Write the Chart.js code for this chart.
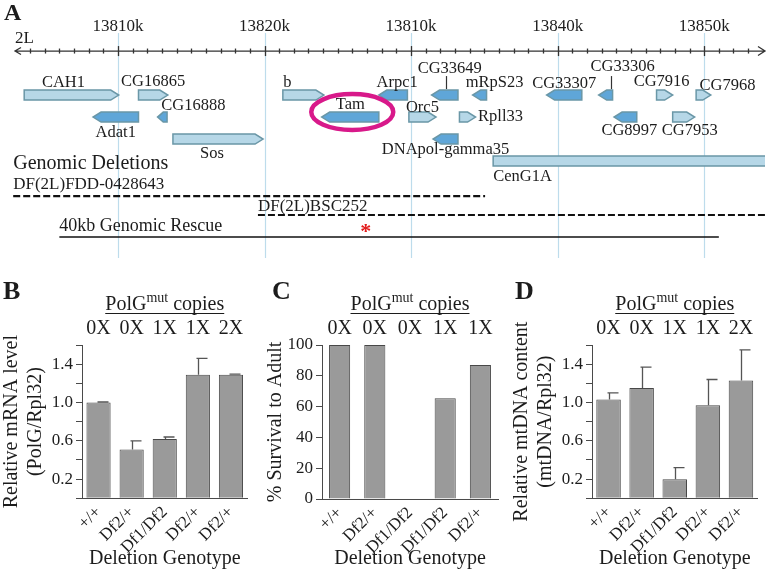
<!DOCTYPE html>
<html>
<head>
<meta charset="utf-8">
<script src="https://cdn.jsdelivr.net/npm/chart.js@4.4.0/dist/chart.umd.min.js"></script>
<style>
  html, body { margin: 0; padding: 0; background: #fff; }
  body { width: 770px; height: 571px; position: relative; overflow: hidden; }
  .panel { position: absolute; }
</style>
</head>
<body>
<div class="panel" style="left:0;top:0;width:770px;height:270px"><canvas id="map"></canvas></div>
<div class="panel" style="left:0;top:280px;width:255px;height:291px"><canvas id="mrna"></canvas></div>
<div class="panel" style="left:255px;top:280px;width:255px;height:291px"><canvas id="survival"></canvas></div>
<div class="panel" style="left:510px;top:280px;width:260px;height:291px"><canvas id="mtdna"></canvas></div>
<script>
// ---- panel A: genomic region (kb on chromosome 2L) ----
const rulerMinKb = 13802.7;
const rulerMaxKb = 13854.15;
const majorTickKb = [13810, 13820, 13830, 13840, 13850];
const majorTickLabels = ['13810k', '13820k', '13810k', '13840k', '13850k'];

const geneNames = ['CAH1', 'CG16865', 'CG16888', 'Adat1', 'Sos', 'b', 'Tam', 'Arpc1', 'CG33649', 'mRpS23',
  'Orc5', 'Rpll33', 'DNApol-gamma35', 'CenG1A', 'CG33307', 'CG33306', 'CG7916', 'CG7968', 'CG8997', 'CG7953'];
const geneStarts = [13803.6, 13811.4, 13812.7, 13808.3, 13813.75, 13821.25, 13823.9, 13827.8, 13831.4, 13834.2,
  13829.85, 13833.3, 13831.5, 13835.6, 13839.25, 13842.8, 13846.75, 13849.45, 13843.85, 13847.85];
const geneEnds = [13810.05, 13813.4, 13813.35, 13811.4, 13819.9, 13824.05, 13827.8, 13829.75, 13833.2, 13835.15,
  13831.7, 13834.4, 13833.2, 13856.0, 13841.65, 13843.75, 13847.85, 13850.45, 13845.4, 13849.35];
const geneStrands = ['+', '+', '-', '-', '+', '+', '-', '-', '-', '-', '+', '+', '-', '+', '-', '-', '+', '+', '-', '+'];
const geneLanes = [0, 0, 1, 1, 2, 0, 1, 0, 0, 0, 1, 1, 2, 3, 0, 0, 0, 0, 1, 1];

const deletionNames = ['DF(2L)FDD-0428643', 'DF(2L)BSC252', '40kb Genomic Rescue'];
const deletionStarts = [13802.85, 13819.55, 13806.0];
const deletionEnds = [13835.05, 13854.15, 13851.0];
const deletionLanes = [4.59, 5.45, 6.45];
const deletionDashed = [true, true, false];
const rescueMarkKb = 13826.9;
const highlightedGene = 'Tam';

// ---- panels B-D ----
const mrnaGenotypes = ['+/+', 'Df2/+', 'Df1/Df2', 'Df2/+', 'Df2/+'];
const mrnaCopies = ['0X', '0X', '1X', '1X', '2X'];
const mrnaLevel = [1.0, 0.51, 0.62, 1.29, 1.29];
const mrnaError = [0.005, 0.09, 0.02, 0.17, 0.006];

const survivalGenotypes = ['+/+', 'Df2/+', 'Df1/Df2', 'Df1/Df2', 'Df2/+'];
const survivalCopies = ['0X', '0X', '0X', '1X', '1X'];
const survivalPct = [100, 100, 0, 65.5, 87];

const mtdnaGenotypes = ['+/+', 'Df2/+', 'Df1/Df2', 'Df2/+', 'Df2/+'];
const mtdnaCopies = ['0X', '0X', '1X', '1X', '2X'];
const mtdnaContent = [1.03, 1.15, 0.20, 0.97, 1.23];
const mtdnaError = [0.07, 0.22, 0.12, 0.27, 0.32];

const relativeTickLabels = [0.2, 0.6, 1.0, 1.4];

const SERIF = "'Liberation Serif', 'Times New Roman', serif";
const INK = '#1c1c1c';
const AXIS = '#4a4a4a';
const BAR_FILL = 'rgb(154,154,154)';
const BAR_EDGE = 'rgb(72,72,72)';

// label placement for genes (px, relative to gene centre)
const geneLabelOffsets = {
  'CAH1': [-8, -12], 'CG16865': [0, -13], 'CG16888': [31, -11], 'Adat1': [0, 16], 'Sos': [-6, 15],
  'b': [-16, -12], 'Tam': [0, -12], 'Arpc1': [4, -12], 'CG33649': [5, -26], 'mRpS23': [15, -12],
  'Orc5': [0, -9], 'Rpll33': [33, 0], 'DNApol-gamma35': [0, 11], 'CG33307': [0, -11], 'CG33306': [17, -28],
  'CG7916': [-3, -13], 'CG7968': [24, -9], 'CG8997': [4, 14], 'CG7953': [6, 14]
};
const geneStems = { 'CG33649': 1, 'CG33306': 5 };

function genePath(ctx, x0, x1, yc, h, strand) {
  const head = Math.min(8, (x1 - x0) * 0.6);
  ctx.beginPath();
  if (strand === '+') {
    ctx.moveTo(x0, yc - h / 2);
    ctx.lineTo(x1 - head, yc - h / 2);
    ctx.lineTo(x1, yc);
    ctx.lineTo(x1 - head, yc + h / 2);
    ctx.lineTo(x0, yc + h / 2);
  } else {
    ctx.moveTo(x1, yc - h / 2);
    ctx.lineTo(x0 + head, yc - h / 2);
    ctx.lineTo(x0, yc);
    ctx.lineTo(x0 + head, yc + h / 2);
    ctx.lineTo(x1, yc + h / 2);
  }
  ctx.closePath();
}

const mapPlugin = {
  id: 'genomeMap',
  beforeDatasetsDraw(chart) {
    const { ctx, chartArea, scales: { x, y } } = chart;
    const rulerY = y.getPixelForValue(-2);
    ctx.save();
    // guide lines at major ticks
    ctx.strokeStyle = '#bddcec';
    ctx.lineWidth = 1.2;
    majorTickKb.forEach((kb) => {
      const px = Math.round(x.getPixelForValue(kb)) + 0.5;
      ctx.beginPath();
      ctx.moveTo(px, rulerY - 18);
      ctx.lineTo(px, chartArea.bottom - 12);
      ctx.stroke();
    });
    // ruler
    const left = chartArea.left + 4;
    const right = chartArea.right;
    ctx.strokeStyle = '#333';
    ctx.lineWidth = 1.3;
    ctx.beginPath();
    ctx.moveTo(left, rulerY);
    ctx.lineTo(right, rulerY);
    ctx.moveTo(left + 6, rulerY - 3.5);
    ctx.lineTo(left, rulerY);
    ctx.lineTo(left + 6, rulerY + 3.5);
    ctx.moveTo(right - 7, rulerY - 4.5);
    ctx.lineTo(right, rulerY);
    ctx.lineTo(right - 7, rulerY + 4.5);
    ctx.stroke();
    for (let kb = Math.ceil(rulerMinKb); kb <= rulerMaxKb; kb++) {
      const px = Math.round(x.getPixelForValue(kb)) + 0.5;
      if (px < left + 8 || px > right - 6) continue;
      const len = majorTickKb.includes(kb) ? 5 : 2.5;
      ctx.beginPath();
      ctx.moveTo(px, rulerY - len);
      ctx.lineTo(px, rulerY + len);
      ctx.stroke();
    }
    ctx.fillStyle = INK;
    ctx.font = `17px ${SERIF}`;
    ctx.textAlign = 'center';
    ctx.textBaseline = 'middle';
    majorTickKb.forEach((kb, i) => ctx.fillText(majorTickLabels[i], x.getPixelForValue(kb), rulerY - 25));
    ctx.textAlign = 'left';
    ctx.fillText('2L', chartArea.left + 4, rulerY - 13);
    ctx.font = `bold 24px ${SERIF}`;
    ctx.fillText('A', 4, 14);
    ctx.restore();
  },
  afterDatasetsDraw(chart) {
    const { ctx, chartArea, scales: { x, y } } = chart;
    ctx.save();
    ctx.beginPath();
    ctx.rect(chartArea.left - 11, chartArea.top, chartArea.right - chartArea.left + 11, chartArea.bottom - chartArea.top);
    ctx.clip();

    // genes
    geneNames.forEach((name, i) => {
      const x0 = x.getPixelForValue(geneStarts[i]);
      const x1 = x.getPixelForValue(geneEnds[i]);
      const yc = y.getPixelForValue(geneLanes[i]);
      genePath(ctx, x0, x1, yc, 10, geneStrands[i]);
      ctx.fillStyle = geneStrands[i] === '+' ? '#b6d7e7' : '#5fa6d8';
      ctx.fill();
      ctx.strokeStyle = '#6a97a7';
      ctx.lineWidth = 1.5;
      ctx.stroke();
    });

    // gene labels
    ctx.fillStyle = INK;
    ctx.font = `16.5px ${SERIF}`;
    ctx.textBaseline = 'middle';
    geneNames.forEach((name, i) => {
      const x0 = x.getPixelForValue(geneStarts[i]);
      const x1 = x.getPixelForValue(geneEnds[i]);
      const yc = y.getPixelForValue(geneLanes[i]);
      if (name === 'CenG1A') {
        ctx.textAlign = 'left';
        ctx.fillText(name, x0, yc + 16);
        return;
      }
      const [dx, dy] = geneLabelOffsets[name];
      ctx.textAlign = 'center';
      ctx.fillText(name, (x0 + x1) / 2 + dx, yc + dy);
      if (geneStems[name] !== undefined) {
        const sx = Math.round((x0 + x1) / 2 + geneStems[name]) + 0.5;
        ctx.strokeStyle = '#333';
        ctx.lineWidth = 1.2;
        ctx.beginPath();
        ctx.moveTo(sx, yc - 19);
        ctx.lineTo(sx, yc - 6);
        ctx.stroke();
      }
    });

    // highlight ring
    const hi = geneNames.indexOf(highlightedGene);
    const hx = (x.getPixelForValue(geneStarts[hi]) + x.getPixelForValue(geneEnds[hi])) / 2 + 2;
    const hy = y.getPixelForValue(geneLanes[hi]) - 5;
    ctx.strokeStyle = '#d8198a';
    ctx.lineWidth = 4.5;
    ctx.beginPath();
    ctx.ellipse(hx, hy, 41, 18, 0, 0, Math.PI * 2);
    ctx.stroke();

    // deletion labels
    const del0 = y.getPixelForValue(deletionLanes[0]);
    ctx.fillStyle = INK;
    ctx.textAlign = 'left';
    ctx.font = `20px ${SERIF}`;
    ctx.fillText('Genomic Deletions', x.getPixelForValue(deletionStarts[0]), del0 - 32);
    const labelLift = [12, 8, 11];
    deletionNames.forEach((name, i) => {
      ctx.font = `${i === 2 ? 18 : 17}px ${SERIF}`;
      ctx.fillText(name, x.getPixelForValue(deletionStarts[i]), y.getPixelForValue(deletionLanes[i]) - labelLift[i]);
    });

    // rescue marker
    ctx.fillStyle = '#e21b1b';
    ctx.font = `bold 22px ${SERIF}`;
    ctx.textAlign = 'center';
    ctx.fillText('*', x.getPixelForValue(rescueMarkKb), y.getPixelForValue(deletionLanes[2]) - 5);
    ctx.restore();
  }
};

new Chart(document.getElementById('map'), {
  type: 'scatter',
  data: {
    datasets: deletionNames.map((name, i) => ({
      type: 'line',
      label: name,
      data: [
        { x: deletionStarts[i], y: deletionLanes[i] },
        { x: deletionEnds[i], y: deletionLanes[i] },
      ],
      borderColor: '#111',
      borderWidth: deletionDashed[i] ? 2.2 : 1.7,
      borderDash: deletionDashed[i] ? [7, 3] : [],
      pointRadius: 0,
      showLine: true,
      clip: false,
    })),
  },
  options: {
    responsive: true,
    maintainAspectRatio: false,
    animation: false,
    layout: { padding: { left: 11, right: 5, top: 0, bottom: 0 } },
    plugins: { legend: { display: false }, tooltip: { enabled: false } },
    scales: {
      x: { type: 'linear', display: false, min: rulerMinKb, max: rulerMaxKb },
      y: { type: 'linear', display: false, min: -4.32, max: 7.95, reverse: true },
    },
  },
  plugins: [mapPlugin],
});

// ---- bar panels ----
const errorBarsPlugin = {
  id: 'errorBars',
  afterDatasetsDraw(chart, args, opts) {
    if (!opts.errors) return;
    const { ctx, scales: { y } } = chart;
    const values = chart.data.datasets[0].data;
    ctx.save();
    ctx.strokeStyle = '#555';
    ctx.lineWidth = 1.3;
    chart.getDatasetMeta(0).data.forEach((bar, i) => {
      const base = y.getPixelForValue(values[i]);
      const top = y.getPixelForValue(values[i] + opts.errors[i]);
      const cx = Math.round(bar.x) + 0.5;
      ctx.beginPath();
      ctx.moveTo(cx, base);
      ctx.lineTo(cx, top);
      ctx.moveTo(cx - 2, top);
      ctx.lineTo(cx + 9, top);
      ctx.stroke();
    });
    ctx.restore();
  }
};

const headerPlugin = {
  id: 'panelHeader',
  afterDraw(chart, args, opts) {
    const { ctx, chartArea, scales: { x } } = chart;
    ctx.save();
    ctx.fillStyle = INK;
    ctx.textBaseline = 'middle';
    ctx.textAlign = 'left';
    ctx.font = `bold 26px ${SERIF}`;
    ctx.fillText(opts.letter, opts.letterX, 12);

    const big = `20px ${SERIF}`;
    const small = `14px ${SERIF}`;
    ctx.font = big;
    const w1 = ctx.measureText('PolG').width;
    const w3 = ctx.measureText(' copies').width;
    ctx.font = small;
    const w2 = ctx.measureText('mut').width;
    const total = w1 + w2 + w3;
    const sx = (chartArea.left + chartArea.right) / 2 - total / 2;
    const cy = 25;
    ctx.font = big;
    ctx.fillText('PolG', sx, cy);
    ctx.font = small;
    ctx.fillText('mut', sx + w1, cy - 7);
    ctx.font = big;
    ctx.fillText(' copies', sx + w1 + w2, cy);
    ctx.strokeStyle = INK;
    ctx.lineWidth = 1;
    ctx.beginPath();
    ctx.moveTo(sx, cy + 8.5);
    ctx.lineTo(sx + total, cy + 8.5);
    ctx.stroke();

    ctx.font = `20px ${SERIF}`;
    ctx.textAlign = 'center';
    opts.copies.forEach((c, i) => ctx.fillText(c, x.getPixelForValue(i), 49));
    ctx.restore();
  }
};

function makeBarChart(canvasId, cfg) {
  return new Chart(document.getElementById(canvasId), {
    type: 'bar',
    data: {
      labels: cfg.labels,
      datasets: [{
        data: cfg.values,
        backgroundColor: BAR_FILL,
        borderColor: BAR_EDGE,
        borderWidth: 1,
        barPercentage: cfg.barPct,
        categoryPercentage: 1,
      }],
    },
    options: {
      responsive: true,
      maintainAspectRatio: false,
      animation: false,
      layout: { padding: { top: 65, right: cfg.padRight, bottom: 0, left: 0 } },
      plugins: {
        legend: { display: false },
        tooltip: { enabled: false },
        errorBars: { errors: cfg.errors },
        panelHeader: { letter: cfg.letter, letterX: cfg.letterX, copies: cfg.copies },
      },
      scales: {
        x: {
          grid: { display: false, drawTicks: false },
          border: { display: true, color: AXIS, width: 1 },
          ticks: {
            autoSkip: false,
            minRotation: 45,
            maxRotation: 45,
            padding: 4,
            color: INK,
            font: { family: SERIF, size: 17 },
          },
          title: {
            display: true,
            text: 'Deletion Genotype',
            color: INK,
            padding: 0,
            font: { family: SERIF, size: 20 },
          },
          afterFit: (scale) => { scale.height = cfg.xHeight; },
        },
        y: {
          min: 0,
          max: cfg.max,
          grid: { display: true, drawOnChartArea: false, tickLength: 6, color: AXIS },
          border: { display: true, color: AXIS, width: 1 },
          ticks: {
            stepSize: cfg.step,
            autoSkip: false,
            padding: 3,
            color: INK,
            font: { family: SERIF, size: 17 },
            callback: cfg.tickLabel,
          },
          title: {
            display: true,
            text: cfg.yTitle,
            color: INK,
            padding: { top: cfg.titlePad, bottom: 0 },
            font: { family: SERIF, size: 20 },
          },
          afterFit: (scale) => { scale.width = cfg.yWidth; },
        },
      },
    },
    plugins: [errorBarsPlugin, headerPlugin],
  });
}

const relativeLabel = (v) =>
  relativeTickLabels.some((t) => Math.abs(t - v) < 1e-6) ? v.toFixed(1) : '';

makeBarChart('mrna', {
  labels: mrnaGenotypes, values: mrnaLevel, errors: mrnaError, copies: mrnaCopies,
  letter: 'B', letterX: 3, max: 1.6, step: 0.2, tickLabel: relativeLabel,
  yTitle: ['Relative mRNA level', '(PolG/Rpl32)'], titlePad: 0,
  yWidth: 82, padRight: 7.5, xHeight: 72.7, barPct: 0.73,
});

makeBarChart('survival', {
  labels: survivalGenotypes, values: survivalPct, errors: null, copies: survivalCopies,
  letter: 'C', letterX: 17, max: 100, step: 20, tickLabel: (v) => String(v),
  yTitle: '% Survival to Adult', titlePad: 9,
  yWidth: 67, padRight: 12, xHeight: 72, barPct: 0.6,
});

makeBarChart('mtdna', {
  labels: mtdnaGenotypes, values: mtdnaContent, errors: mtdnaError, copies: mtdnaCopies,
  letter: 'D', letterX: 5, max: 1.6, step: 0.2, tickLabel: relativeLabel,
  yTitle: ['Relative mtDNA content', '(mtDNA/Rpl32)'], titlePad: 0,
  yWidth: 82, padRight: 12.5, xHeight: 72.7, barPct: 0.74,
});
</script>
</body>
</html>
